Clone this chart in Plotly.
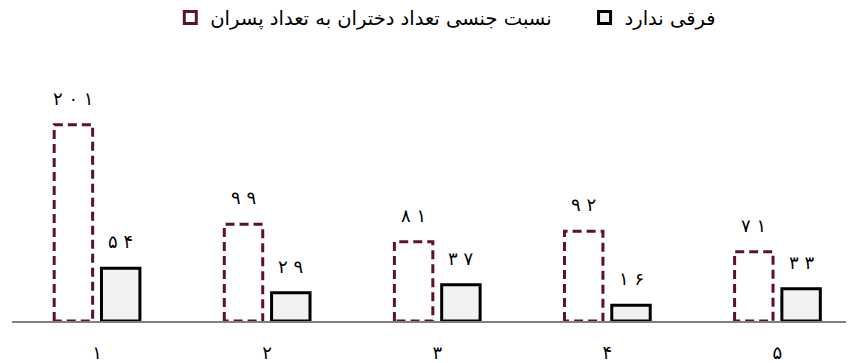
import plotly.graph_objects as go

categories = [1, 2, 3, 4, 5]
ratio_vals = [201, 99, 81, 92, 71]
nodiff_vals = [54, 29, 37, 16, 33]
ratio_name = 'نسبت جنسی تعداد دختران به تعداد پسران'
nodiff_name = 'فرقی ندارد'

FA = str.maketrans('0123456789', '۰۱۲۳۴۵۶۷۸۹')


def fa(n, sep=''):
    return sep.join(str(n).translate(FA))


maroon = '#5e1224'
font = 'DejaVu Sans'
pos = list(range(len(categories)))
bw = 0.226
off1 = -0.252
off2 = 0.026


def main():
    fig = go.Figure()

    # series 1: white bars with a dashed outline drawn on top
    fig.add_trace(go.Bar(
        x=pos, y=ratio_vals, width=bw, offset=off1,
        marker=dict(color='white', line=dict(width=0)),
        showlegend=False, name=ratio_name
    ))
    ox, oy = [], []
    for p, v in zip(pos, ratio_vals):
        x0, x1 = p + off1, p + off1 + bw
        ox += [x0, x0, x1, x1, x0, None]
        oy += [0, v, v, 0, 0, None]
    fig.add_trace(go.Scatter(
        x=ox, y=oy, mode='lines', hoverinfo='skip',
        line=dict(color=maroon, width=3, dash='9px,5px'),
        showlegend=False, cliponaxis=False
    ))
    # legend entry for series 1
    fig.add_trace(go.Bar(
        x=[None], y=[None], name=ratio_name, legend='legend',
        marker=dict(color='white', line=dict(color=maroon, width=3))
    ))

    fig.add_trace(go.Bar(
        x=pos, y=nodiff_vals, width=bw, offset=off2, name=nodiff_name,
        legend='legend2',
        marker=dict(color='#f2f2f2', line=dict(color='black', width=3))
    ))

    for p, v in zip(pos, ratio_vals):
        fig.add_annotation(x=p + off1 + bw / 2, y=v, text=fa(v, ' '), showarrow=False,
                           yanchor='bottom', yshift=14,
                           font=dict(size=18, color='black', family=font))
    for p, v in zip(pos, nodiff_vals):
        fig.add_annotation(x=p + off2 + bw / 2, y=v, text=fa(v, ' '), showarrow=False,
                           yanchor='bottom', yshift=14,
                           font=dict(size=18, color='black', family=font))

    leg = dict(orientation='h', xanchor='left',
               yref='container', y=0.972, yanchor='middle',
               font=dict(size=19.5))
    fig.update_layout(
        width=846, height=355,
        barmode='overlay',
        plot_bgcolor='white', paper_bgcolor='white',
        margin=dict(l=4, r=0, t=72, b=40),
        font=dict(family=font, size=18, color='black'),
        legend=dict(leg, x=0.188),
        legend2=dict(leg, x=0.68),
        xaxis=dict(range=[-0.5, 4.45], tickvals=pos,
                   ticktext=[fa(c) for c in categories],
                   showline=True, linecolor='#808080', linewidth=2,
                   showgrid=False, zeroline=False, ticks='',
                   ticklabelstandoff=14),
        yaxis=dict(range=[0, 246.7], visible=False, showgrid=False),
    )

    fig.write_html('out.html')


if __name__ == '__main__':
    main()
